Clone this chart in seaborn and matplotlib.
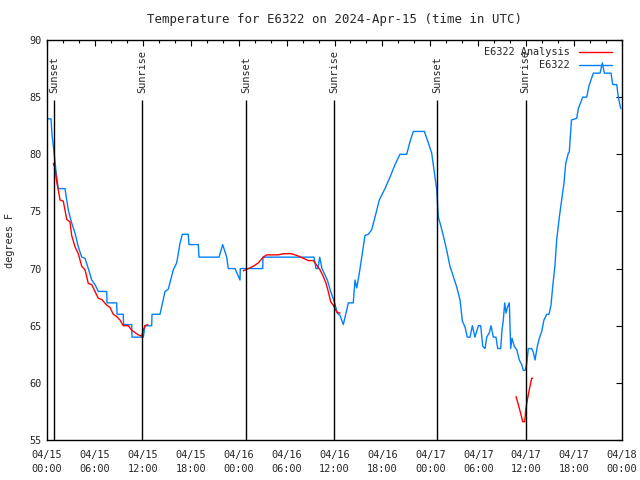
import numpy as np
import pandas as pd
import seaborn as sns
import matplotlib.pyplot as plt
from matplotlib.lines import Line2D

# hours since 04/15 00:00 UTC, temperature in degrees F
obs_hours = [0.0, 0.5, 0.63, 0.91, 1.13, 1.41, 2.25, 2.67, 3.09, 3.51, 3.92, 4.35, 4.76, 5.17,
             5.60, 6.01, 6.42, 7.48, 7.51, 8.73, 8.77, 9.55, 9.59, 10.61, 10.64, 12.06, 12.27,
             13.11, 13.15, 14.15, 14.78, 15.19, 15.82, 16.24, 16.65, 16.94, 17.69, 17.78, 18.95,
             19.03, 21.54, 22.00, 22.50, 22.70, 23.54, 24.17, 24.20, 27.01, 27.05, 33.43, 33.68,
             33.93, 34.15, 34.43, 35.10, 35.52, 35.98, 36.35, 36.69, 37.10, 37.44, 37.73, 38.35,
             38.57, 38.78, 39.11, 39.41, 39.82, 40.23, 40.66, 41.07, 41.61, 42.32, 42.95, 43.58,
             44.20, 45.04, 45.45, 45.87, 47.25, 47.75, 48.17, 48.46, 48.80, 49.00, 49.21, 49.62,
             50.05, 50.46, 50.88, 51.30, 51.72, 52.01, 52.34, 52.63, 52.97, 53.26, 53.59, 54.01,
             54.31, 54.56, 54.85, 55.06, 55.39, 55.60, 55.89, 56.22, 56.44, 56.81, 56.97, 57.14,
             57.31, 57.48, 57.64, 57.89, 58.06, 58.23, 58.51, 58.82, 59.14, 59.44, 59.64, 59.89,
             60.07, 60.27, 60.69, 60.89, 61.11, 61.40, 61.65, 61.95, 62.23, 62.57, 62.86, 63.11,
             63.32, 63.61, 63.82, 64.15, 64.45, 64.74, 64.95, 65.28, 65.40, 65.52, 65.67, 66.33,
             66.53, 67.08, 67.58, 67.87, 68.41, 69.25, 69.54, 69.79, 70.62, 70.84, 71.34, 71.54,
             71.84]
obs_temp = [83.1, 83.1, 81.7, 80.0, 78.5, 77.0, 77.0, 75.1, 74.0, 73.1, 71.9, 71.0, 70.9, 70.0,
            69.0, 68.6, 68.0, 68.0, 67.0, 67.0, 66.0, 66.0, 65.1, 65.1, 64.0, 64.0, 65.0,
            65.0, 66.0, 66.0, 68.0, 68.2, 69.9, 70.5, 72.2, 73.0, 73.0, 72.1, 72.1,
            71.0, 71.0, 72.1, 71.0, 70.0, 70.0, 69.0, 70.0, 70.0, 71.0, 71.0, 70.0,
            70.0, 71.0, 70.0, 69.0, 68.0, 67.1, 66.1, 65.9, 65.1, 66.1, 67.0, 67.0,
            69.0, 68.3, 69.6, 71.0, 72.9, 73.0, 73.4, 74.5, 76.0, 77.0, 78.0, 79.1,
            80.0, 80.0, 81.1, 82.0, 82.0, 81.0, 80.1, 78.6, 76.9, 74.5, 74.0, 72.9,
            71.6, 70.2, 69.3, 68.4, 67.25, 65.4, 64.9, 64.0, 64.0, 65.0, 64.0, 65.0,
            65.0, 63.2, 63.0, 64.0, 64.4, 65.0, 64.0, 64.0, 63.0, 63.0, 64.6, 65.5,
            67.0, 66.1, 66.6, 67.0, 63.0, 63.9, 63.2, 62.9, 62.0, 61.6, 61.1, 61.1,
            61.7, 63.0, 63.0, 62.7, 62.0, 63.2, 63.9, 64.5, 65.5, 66.0, 66.0, 66.8,
            68.4, 70.3, 72.5, 74.5, 76.0, 77.5, 79.2, 80.1, 80.2, 81.5, 83.0, 83.15,
            84.0, 85.0, 85.0, 86.0, 87.1, 87.1, 88.0, 87.1, 87.1, 86.1, 86.1, 85.0,
            84.0]

# analysis, three separate pieces
ana_hours = [0.79, 1.00, 1.21, 1.41, 1.63, 2.04, 2.47, 2.88, 3.09, 3.51, 3.92, 4.35, 4.76, 5.17,
             5.60, 6.01, 6.42, 6.85, 7.48, 7.89, 8.30, 8.73, 9.14, 9.55, 10.18, 10.61, 11.02,
             11.43, 11.86, 12.06, 12.27, 12.61,
             24.58, 25.21, 25.83, 26.46, 27.08, 27.51, 28.96, 29.59, 30.64, 31.47, 32.09, 32.72,
             33.35, 33.77, 34.18, 34.60, 34.94, 35.22, 35.52, 35.85, 36.28, 36.69,
             58.73, 59.02, 59.32, 59.57, 59.82, 59.94, 60.14, 60.39, 60.69, 60.82]
ana_temp = [79.2, 78.8, 77.6, 76.9, 76.0, 75.9, 74.3, 74.1, 72.9, 71.9, 71.3, 70.2, 69.9, 68.7,
            68.6, 68.0, 67.4, 67.3, 66.8, 66.6, 66.0, 65.8, 65.5, 65.0, 65.0, 64.6, 64.4,
            64.2, 64.1, 64.6, 65.0, 65.1,
            69.8, 70.0, 70.2, 70.5, 71.0, 71.2, 71.2, 71.3, 71.3, 71.1, 70.9, 70.7,
            70.7, 70.3, 69.9, 69.3, 68.7, 68.0, 67.1, 66.8, 66.2, 66.1,
            58.8, 58.1, 57.3, 56.6, 56.6, 57.6, 58.5, 59.4, 60.4, 60.4]
ana_piece = [1] * 32 + [2] * 22 + [3] * 10

sun_hours = [0.91, 11.94, 24.98, 35.98, 48.88, 59.94]
sun_names = ["Sunset", "Sunrise", "Sunset", "Sunrise", "Sunset", "Sunrise"]

tick_hours = list(range(0, 73, 6))
tick_labels = ["04/15\n00:00", "04/15\n06:00", "04/15\n12:00", "04/15\n18:00",
               "04/16\n00:00", "04/16\n06:00", "04/16\n12:00", "04/16\n18:00",
               "04/17\n00:00", "04/17\n06:00", "04/17\n12:00", "04/17\n18:00",
               "04/18\n00:00"]

sns.set_style("white")
plt.rcParams['font.family'] = ['DejaVu Sans Mono']
plt.rcParams['font.size'] = 7.4

obs = pd.DataFrame({"hours": obs_hours, "temp": obs_temp})
ana = pd.DataFrame({"hours": ana_hours, "temp": ana_temp, "piece": ana_piece})

fig = plt.figure(figsize=(6.4, 4.8), dpi=100)
ax = fig.add_axes([47 / 640, 1 - 440 / 480, 575 / 640, 400 / 480])

sns.lineplot(data=obs, x="hours", y="temp", color="#0080ff", lw=1.0, ax=ax, sort=False)
sns.lineplot(data=ana, x="hours", y="temp", units="piece", estimator=None, color="red",
             lw=1.0, ax=ax, sort=False)

for h, name in zip(sun_hours, sun_names):
    ax.vlines(h, 55, 84.75, color="black", lw=1.0)
    ax.text(h, 85.4, name, rotation=90, ha="center", va="bottom")

ax.set_xlim(0, 72)
ax.set_ylim(55, 90)
ax.set_xticks(tick_hours, tick_labels)
ax.set_xticks(range(0, 73, 2), minor=True)
ax.set_yticks(range(55, 91, 5))
plt.setp(ax.get_xticklabels(), linespacing=1.5)
ax.tick_params(which="both", direction="in", top=True, right=True, color="black")
ax.tick_params(which="major", length=4.5, width=0.8)
ax.tick_params(which="minor", length=2.5, width=0.8)
ax.tick_params(axis="x", pad=7)
ax.tick_params(axis="y", pad=4)
for s in ax.spines.values():
    s.set_color("black")
    s.set_linewidth(1.0)

ax.set_xlabel("")
ax.set_ylabel("degrees F", labelpad=10)
ax.set_title("Temperature for E6322 on 2024-Apr-15 (time in UTC)", pad=12)

handles = [Line2D([], [], color="red", lw=1.0), Line2D([], [], color="#0080ff", lw=1.0)]
ax.legend(handles, ["E6322 Analysis", "E6322"], loc="upper right", bbox_to_anchor=(0.995, 1.0),
          frameon=False, markerfirst=False, handlelength=3.2, handletextpad=0.9,
          labelspacing=0.3, borderpad=0.2)

fig.savefig("out.png", dpi=100)
